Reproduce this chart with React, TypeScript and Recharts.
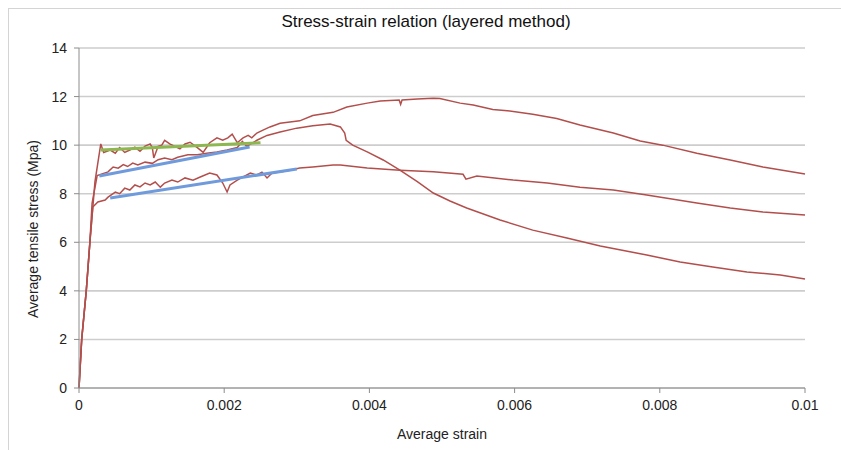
import { LineChart, Line, XAxis, YAxis, CartesianGrid } from "recharts";

// strain / stress pairs, [average strain, average tensile stress (MPa)]
const upperCurve: [number, number][] = [
  [0, 0], [0.000037, 2], [0.0001, 4], [0.00015, 6], [0.00022, 8.5], [0.0003, 10.05],
  [0.00034, 9.7], [0.00043, 9.8], [0.0005, 9.67], [0.00056, 9.9], [0.00063, 9.7],
  [0.0007, 9.8], [0.00077, 9.92], [0.00084, 9.75], [0.00091, 9.96], [0.00098, 10.05],
  [0.00101, 9.9], [0.00103, 9.47], [0.00109, 9.95], [0.00114, 10.0], [0.00118, 10.2],
  [0.00125, 10.05], [0.00132, 9.95], [0.00139, 9.85], [0.00146, 10.05], [0.00153, 10.12],
  [0.00163, 9.9], [0.00171, 9.7], [0.0018, 10.1], [0.0019, 10.3], [0.00198, 10.2],
  [0.00205, 10.3], [0.00211, 10.45], [0.00218, 10.1], [0.00226, 10.3], [0.00233, 10.4],
  [0.00238, 10.3], [0.00245, 10.5], [0.00252, 10.6], [0.00263, 10.75], [0.00277, 10.9],
  [0.00304, 11.0], [0.00322, 11.22], [0.0035, 11.35], [0.00369, 11.57], [0.00397, 11.73],
  [0.00415, 11.82], [0.00441, 11.86], [0.00443, 11.68], [0.00445, 11.86], [0.00466, 11.9],
  [0.00488, 11.93], [0.00497, 11.92], [0.00525, 11.73], [0.00543, 11.65], [0.0057, 11.47],
  [0.0059, 11.42], [0.00625, 11.27], [0.00658, 11.1], [0.0069, 10.83], [0.00736, 10.5],
  [0.00773, 10.17], [0.00804, 10.0], [0.00851, 9.67], [0.00897, 9.39], [0.00942, 9.1],
  [0.01, 8.81],
];

const middleCurve: [number, number][] = [
  [0, 0], [0.000037, 2], [0.0001, 4], [0.00015, 6], [0.00018, 7.6], [0.00025, 8.75],
  [0.0004, 8.9], [0.00047, 9.1], [0.00054, 9.05], [0.00061, 9.2], [0.00067, 9.12],
  [0.00074, 9.26], [0.00081, 9.18], [0.00091, 9.3], [0.00101, 9.25], [0.00109, 9.4],
  [0.00118, 9.47], [0.00128, 9.4], [0.00136, 9.5], [0.0015, 9.6], [0.00163, 9.6],
  [0.00176, 9.67], [0.0019, 9.72], [0.00204, 9.8], [0.00218, 9.9], [0.00225, 10.15],
  [0.00231, 9.95], [0.00245, 10.2], [0.00259, 10.4], [0.00277, 10.54], [0.003, 10.7],
  [0.00322, 10.8], [0.00346, 10.87], [0.0036, 10.75], [0.00366, 10.5], [0.00368, 10.2],
  [0.00377, 10.0], [0.00397, 9.72], [0.00419, 9.39], [0.00442, 8.97], [0.00466, 8.5],
  [0.00488, 8.03], [0.00511, 7.7], [0.00534, 7.41], [0.0058, 6.92], [0.00625, 6.5],
  [0.00672, 6.18], [0.00718, 5.85], [0.00782, 5.48], [0.00828, 5.19], [0.00873, 4.98],
  [0.0092, 4.78], [0.00966, 4.65], [0.01, 4.49],
];

const lowerCurve: [number, number][] = [
  [0, 0], [0.000037, 2], [0.0001, 4], [0.00015, 6], [0.00019, 7.45], [0.00026, 7.66],
  [0.00036, 7.74], [0.0004, 7.86], [0.0005, 8.07], [0.00056, 8.0], [0.00063, 8.23],
  [0.0007, 8.15], [0.00077, 8.36], [0.00084, 8.28], [0.00091, 8.44], [0.00098, 8.36],
  [0.00105, 8.48], [0.00112, 8.27], [0.00118, 8.44], [0.00128, 8.56], [0.00136, 8.48],
  [0.00146, 8.65], [0.00157, 8.56], [0.00167, 8.69], [0.0018, 8.85], [0.0019, 8.77],
  [0.00198, 8.44], [0.00204, 8.07], [0.00208, 8.36], [0.00218, 8.56], [0.00226, 8.69],
  [0.00236, 8.85], [0.00245, 8.77], [0.00252, 8.89], [0.00259, 8.65], [0.00266, 8.85],
  [0.00277, 8.89], [0.00291, 8.97], [0.00304, 9.06], [0.00322, 9.1], [0.0035, 9.18],
  [0.0036, 9.18], [0.00397, 9.06], [0.00442, 8.97], [0.00488, 8.9], [0.00529, 8.8],
  [0.00533, 8.6], [0.00548, 8.73], [0.00598, 8.56], [0.00645, 8.44], [0.0069, 8.27],
  [0.00736, 8.15], [0.00782, 7.95], [0.00851, 7.62], [0.00897, 7.41], [0.00942, 7.25],
  [0.01, 7.12],
];

// linear fits over the hardening branch
const greenFit: [number, number][] = [[0.0003, 9.8], [0.0025, 10.1]];
const blueFitUpper: [number, number][] = [[0.00028, 8.73], [0.00235, 9.92]];
const blueFitLower: [number, number][] = [[0.00043, 7.82], [0.003, 9.02]];

const xTicks = [0, 0.002, 0.004, 0.006, 0.008, 0.01];
const yTicks = [0, 2, 4, 6, 8, 10, 12, 14];

const toRows = (pts: [number, number][]) => pts.map(([x, y]) => ({ x, y }));

const FONT = '"Liberation Sans Narrow", "Arial Narrow", "Liberation Sans", Arial, sans-serif';
const RED = "#b24f4c";
const BLUE = "#6f9bdc";
const GREEN = "#8db74f";

// rotated y-axis title, placed from the axis viewBox
const YTitle = ({ viewBox }: any) => {
  const x = viewBox.x + 33;
  const y = viewBox.y + viewBox.height / 2 + 11;
  return (
    <text x={x} y={y} transform={`rotate(-90 ${x} ${y})`} textAnchor="middle" dominantBaseline="central"
      style={{ fontSize: 14, fill: "#222", fontFamily: FONT }}>
      Average tensile stress (Mpa)
    </text>
  );
};

export default function App() {
  const tick = { fontSize: 14, fill: "#222", fontFamily: FONT };
  const axisLabel = { fontSize: 14, fill: "#222", fontFamily: FONT };
  return (
    <div style={{ position: "absolute", left: 0, top: 0, width: 841, height: 450, background: "#fff", overflow: "hidden" }}>
      <div style={{ position: "absolute", left: 8, top: 8, width: 900, height: 500, borderTop: "1px solid #d4d4d4", borderLeft: "1px solid #d4d4d4" }} />
      <div style={{ position: "absolute", left: 0, top: 12, width: 852, textAlign: "center", fontFamily: FONT, fontSize: 17, color: "#111" }}>
        Stress-strain relation (layered method)
      </div>
      <div style={{ position: "absolute", left: 0, top: 0 }}>
        <LineChart width={841} height={450} margin={{ top: 48, right: 36, bottom: 8, left: 0 }}>
          <CartesianGrid vertical={false} stroke="#cdcdcd" strokeWidth={1.6} />
          <XAxis
            type="number"
            dataKey="x"
            domain={[0, 0.01]}
            ticks={xTicks}
            tickFormatter={(v) => String(v)}
            height={54}
            stroke="#8c8c8c"
            tickSize={5}
            tickMargin={7}
            tick={tick}
            label={{ value: "Average strain", position: "insideBottom", offset: 3, style: axisLabel }}
          />
          <YAxis
            type="number"
            dataKey="y"
            domain={[0, 14]}
            ticks={yTicks}
            width={79}
            stroke="#8c8c8c"
            tickSize={5}
            tickMargin={7}
            tick={tick}
            label={<YTitle />}
          />
          {[upperCurve, middleCurve, lowerCurve].map((c, i) => (
            <Line key={i} data={toRows(c)} dataKey="y" type="linear" stroke={RED} strokeWidth={1.5} dot={false} isAnimationActive={false} />
          ))}
          <Line data={toRows(blueFitUpper)} dataKey="y" type="linear" stroke={BLUE} strokeWidth={3} dot={false} isAnimationActive={false} />
          <Line data={toRows(blueFitLower)} dataKey="y" type="linear" stroke={BLUE} strokeWidth={3} dot={false} isAnimationActive={false} />
          <Line data={toRows(greenFit)} dataKey="y" type="linear" stroke={GREEN} strokeWidth={3} dot={false} isAnimationActive={false} />
        </LineChart>
      </div>
    </div>
  );
}
